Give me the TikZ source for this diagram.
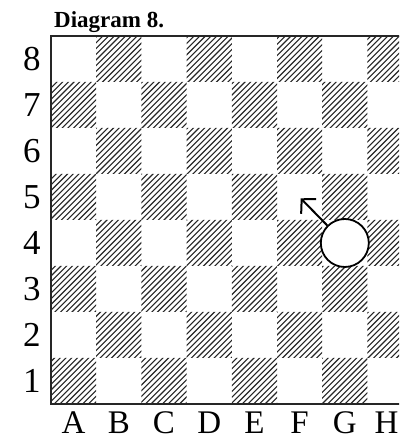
\documentclass[tikz,border=0pt]{standalone}
\usepackage{fontspec}
\setmainfont{Liberation Serif}
\usetikzlibrary{arrows.meta}
\begin{document}
\begin{tikzpicture}[x=1pt,y=1pt,
  rowlab/.style={font=\fontsize{35}{35}\selectfont, inner sep=0pt, anchor=center},
  collab/.style={font=\fontsize{33}{33}\selectfont, inner sep=0pt, text depth=0pt, anchor=base},
  hatchline/.style={line width=1.1pt, black!85},
  border/.style={line width=1.8pt, black!85},
  piece/.style={circle, draw, fill=white, line width=1.8pt, minimum size=48pt, inner sep=0pt}]
\useasboundingbox (0,0) rectangle (399,441);
\clip (0,0) rectangle (399,441);
\def\sw{45.2}
\def\sh{46}
% hatched squares
\begin{scope}
\clip \foreach \j in {1,3,5,7} {\foreach \i in {0,2,4,6} {(51+\sw*\i, 37+\sh*\j-\sh) rectangle ++(\sw,\sh)}}
      \foreach \j in {2,4,6,8} {\foreach \i in {1,3,5,7} {(51+\sw*\i, 37+\sh*\j-\sh) rectangle ++(\sw,\sh)}};
\foreach \n in {-64,...,68} {\draw[hatchline] (5.7*\n, 0) -- ++(450,450);}
\end{scope}
% border
\draw[border] (420,405) -- (51,405) -- (51,37) -- (420,37);
% title
\node[anchor=base west, inner sep=0pt, font=\bfseries\fontsize{23}{23}\selectfont] (title) at (54,413) {Diagram 8.};
% row labels
\foreach \r in {1,...,8} {\node[rowlab] (r\r) at (32, 37+\sh*\r-\sh/2) {\r};}
% column labels
\foreach \c [count=\k from 0] in {A,B,C,D,E,F,G} {\node[collab] (c\c) at (51+\sw*\k+\sw/2, 7.5) {\c};}
\node[collab] (cH) at (386.5, 7.5) {H};
% piece and arrow
\node[piece] (pc) at (51+\sw*6.5, 37+\sh*3.5) {};
\coordinate (tip) at (300.7,242.7);
\draw[line width=2pt, -{Straight Barb[length=10pt,width=21pt]}] (pc.135) -- (tip);
\end{tikzpicture}
\end{document}
